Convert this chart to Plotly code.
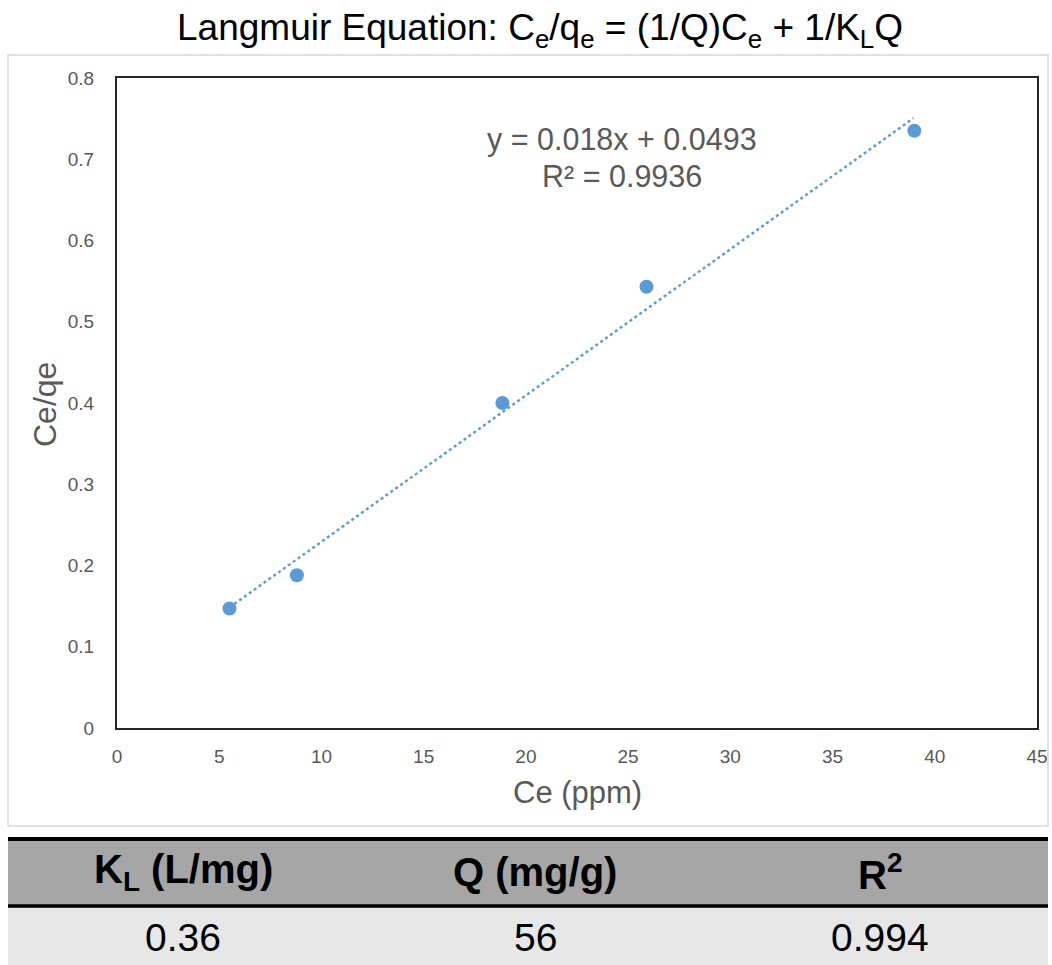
import plotly.graph_objects as go

# ---- data ----
ce = [5.5, 8.8, 18.85, 25.9, 39.0]
ce_qe = [0.147, 0.188, 0.400, 0.543, 0.735]
slope = 0.018
intercept = 0.0493
trend_x = [5.5, 38.95]
eq_line1 = "y = 0.018x + 0.0493"
eq_line2 = "R² = 0.9936"
table_headers = ["K<sub>L</sub> (L/mg)", "Q (mg/g)", "R<sup>2</sup>"]
table_values = ["0.36", "56", "0.994"]
x_ticks = [0, 5, 10, 15, 20, 25, 30, 35, 40, 45]
y_ticks = [0, 0.1, 0.2, 0.3, 0.4, 0.5, 0.6, 0.7, 0.8]

W, H = 1052, 965
def px(x):
    return x / W
def py(y):
    return 1 - y / H

trend_y = [slope * x + intercept for x in trend_x]

fig = go.Figure()
fig.add_trace(go.Scatter(x=trend_x, y=trend_y, mode="lines",
                         line=dict(color="#5b9bd5", width=2.4, dash="dot"),
                         showlegend=False, hoverinfo="skip"))
fig.add_trace(go.Scatter(x=ce, y=ce_qe, mode="markers",
                         marker=dict(color="#5b9bd5", size=14),
                         showlegend=False))

font = "Liberation Sans, Arial, sans-serif"
gray = "#595959"

fig.update_layout(
    width=W, height=H,
    margin=dict(l=0, r=0, t=0, b=0, autoexpand=False),
    paper_bgcolor="white", plot_bgcolor="white",
    font=dict(family=font, color=gray),
    xaxis=dict(domain=[px(117), px(1037)], range=[0, 45], tickvals=x_ticks,
               showgrid=False, zeroline=False, showline=True, mirror=True,
               linecolor="#262626", linewidth=2, ticks="", automargin=False,
               tickfont=dict(size=19, color=gray), ticklabelstandoff=10),
    yaxis=dict(domain=[py(728), py(78)], range=[0, 0.8], tickvals=y_ticks,
               tickformat="~g", automargin=False,
               showgrid=False, zeroline=False, showline=True, mirror=True,
               linecolor="#262626", linewidth=2, ticks="",
               tickfont=dict(size=19, color=gray), ticklabelstandoff=17),
)

annotations = [
    dict(text="Langmuir Equation: C<sub>e</sub>/q<sub>e</sub> = (1/Q)C<sub>e</sub> + 1/K<sub>L</sub>Q",
         x=px(540), y=py(30), xref="paper", yref="paper", showarrow=False,
         font=dict(size=37, color="black", family=font), xanchor="center", yanchor="middle"),
    dict(text="Ce (ppm)", x=px(577), y=py(792), xref="paper", yref="paper", showarrow=False,
         font=dict(size=31, color=gray), xanchor="center", yanchor="middle"),
    dict(text="Ce/qe", x=px(45), y=py(405), xref="paper", yref="paper", showarrow=False,
         textangle=-90, font=dict(size=32, color=gray), xanchor="center", yanchor="middle"),
    dict(text=eq_line1, x=px(622), y=py(140), xref="paper", yref="paper", showarrow=False,
         font=dict(size=30.5, color=gray), xanchor="center", yanchor="middle"),
    dict(text=eq_line2, x=px(622), y=py(176), xref="paper", yref="paper", showarrow=False,
         font=dict(size=30.5, color=gray), xanchor="center", yanchor="middle"),
]

shapes = [
    dict(type="rect", xref="paper", yref="paper", x0=px(8), x1=px(1048), y0=py(826), y1=py(55),
         line=dict(color="#d9d9d9", width=1.5), fillcolor="rgba(0,0,0,0)", layer="below"),
    dict(type="rect", xref="paper", yref="paper", x0=px(8), x1=px(1048), y0=py(905), y1=py(840),
         line=dict(width=0), fillcolor="#a6a6a6"),
    dict(type="rect", xref="paper", yref="paper", x0=px(8), x1=px(1048), y0=py(965), y1=py(907),
         line=dict(width=0), fillcolor="#e7e7e7"),
    dict(type="line", xref="paper", yref="paper", x0=px(8), x1=px(1048), y0=py(839), y1=py(839),
         line=dict(color="black", width=4)),
    dict(type="line", xref="paper", yref="paper", x0=px(8), x1=px(1048), y0=py(906), y1=py(906),
         line=dict(color="black", width=3.5)),
]

col_centers = [183, 535, 880]
for cx, h, v in zip(col_centers, table_headers, table_values):
    annotations.append(dict(text="<b>" + h + "</b>", x=px(cx), y=py(872), xref="paper", yref="paper",
                            showarrow=False, font=dict(size=40, color="black", family=font),
                            xanchor="center", yanchor="middle"))
    annotations.append(dict(text=v, x=px(cx), y=py(937), xref="paper", yref="paper",
                            showarrow=False, font=dict(size=39, color="black", family=font),
                            xanchor="center", yanchor="middle"))

fig.update_layout(annotations=annotations, shapes=shapes)
fig.write_html("out.html", config={"displayModeBar": False},
               post_script="document.body.style.margin='0';document.body.style.overflow='hidden';")
